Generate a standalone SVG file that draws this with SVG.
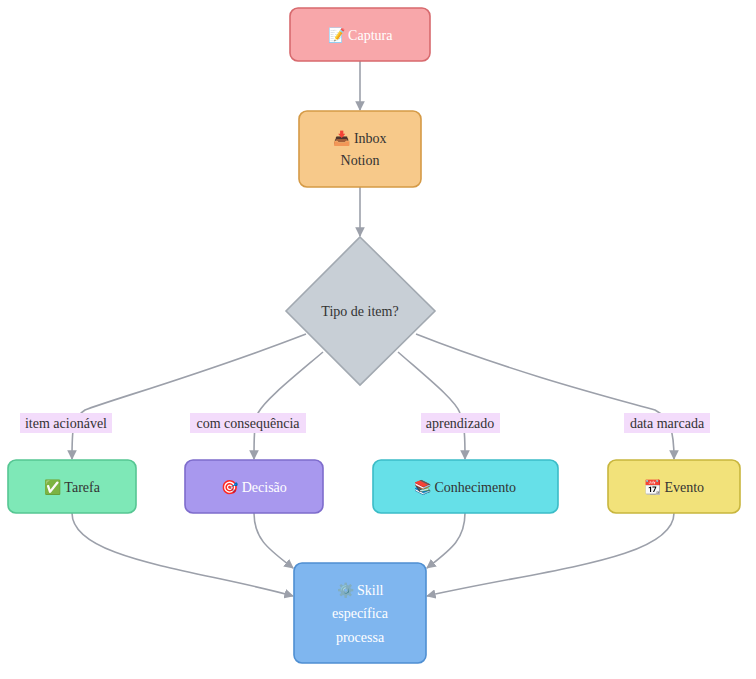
<svg xmlns="http://www.w3.org/2000/svg" width="756" height="679" viewBox="0 0 756 679">
<style>
text{font-family:"Liberation Serif","Times New Roman",serif;font-size:14px;text-anchor:middle;dominant-baseline:central;fill:#333}
.w{fill:#fff}
.e{fill:none;stroke:#9ca0aa;stroke-width:1.6}
.lb{fill:#f3dcfb}
</style>
<defs><marker id="a" viewBox="0 0 10 10" refX="9" refY="5" markerWidth="6" markerHeight="6" orient="auto"><path d="M0,0L10,5L0,10z" fill="#9ca0aa"/></marker></defs>
<g id="connectors">
<path class="e" d="M360,61V110" marker-end="url(#a)"/>
<path class="e" d="M360,187V236" marker-end="url(#a)"/>
<path class="e" d="M306,334C200,375 110,400 85,410C72,418 72,430 72,459" marker-end="url(#a)"/>
<path class="e" d="M323,352C290,380 265,400 258,413C254,425 254,440 254,459" marker-end="url(#a)"/>
<path class="e" d="M398,352C430,380 455,400 460,413C465,425 465,440 465,459" marker-end="url(#a)"/>
<path class="e" d="M416,334C520,375 620,400 655,410C670,418 674,430 674,459" marker-end="url(#a)"/>
<path class="e" d="M72,513C72,560 200,570 293,596" marker-end="url(#a)"/>
<path class="e" d="M254,513C254,540 270,550 293,568" marker-end="url(#a)"/>
<path class="e" d="M465,513C465,540 450,550 427,568" marker-end="url(#a)"/>
<path class="e" d="M674,513C674,560 540,570 427,596" marker-end="url(#a)"/>
<rect class="lb" x="20" y="413" width="92" height="20"/><text x="66" y="423">item acionável</text>
<rect class="lb" x="190" y="413" width="116" height="20"/><text x="248" y="423">com consequência</text>
<rect class="lb" x="421" y="413" width="79" height="20"/><text x="460" y="423">aprendizado</text>
<rect class="lb" x="624" y="413" width="86" height="20"/><text x="667" y="423">data marcada</text>
</g>
<g id="captura"><rect x="290" y="8" width="140" height="53" rx="8" fill="#f8a7aa" stroke="#d76a6e" stroke-width="1.6"/><text class="w" x="360" y="35">📝 Captura</text></g>
<g id="inbox"><rect x="299" y="111" width="122" height="76" rx="8" fill="#f7c98a" stroke="#d59a46" stroke-width="1.6"/><text x="360" y="138">📥 Inbox</text><text x="360" y="160">Notion</text></g>
<g id="tipo"><path d="M360,237L435,311L360,385L286,311z" fill="#c8cfd6" stroke="#a2a9b1" stroke-width="1.6"/><text x="360" y="311">Tipo de item?</text></g>
<g id="tarefa"><rect x="8" y="460" width="128" height="53" rx="8" fill="#7ee8b7" stroke="#56c693" stroke-width="1.6"/><text x="72" y="487">✅ Tarefa</text></g>
<g id="decisao"><rect x="185" y="460" width="138" height="53" rx="8" fill="#a898ee" stroke="#7e6ccc" stroke-width="1.6"/><text class="w" x="254" y="487">🎯 Decisão</text></g>
<g id="conhecimento"><rect x="373" y="460" width="185" height="53" rx="8" fill="#66e0e8" stroke="#3bbcc7" stroke-width="1.6"/><text x="465" y="487">📚 Conhecimento</text></g>
<g id="evento"><rect x="608" y="460" width="132" height="53" rx="8" fill="#f2e27a" stroke="#c8b63e" stroke-width="1.6"/><text x="674" y="487">📆 Evento</text></g>
<g id="skill"><rect x="294" y="563" width="132" height="100" rx="8" fill="#7fb6ef" stroke="#4f8fd2" stroke-width="1.6"/><text class="w" x="360" y="590">⚙️ Skill</text><text class="w" x="360" y="613">específica</text><text class="w" x="360" y="637">processa</text></g>
</svg>
